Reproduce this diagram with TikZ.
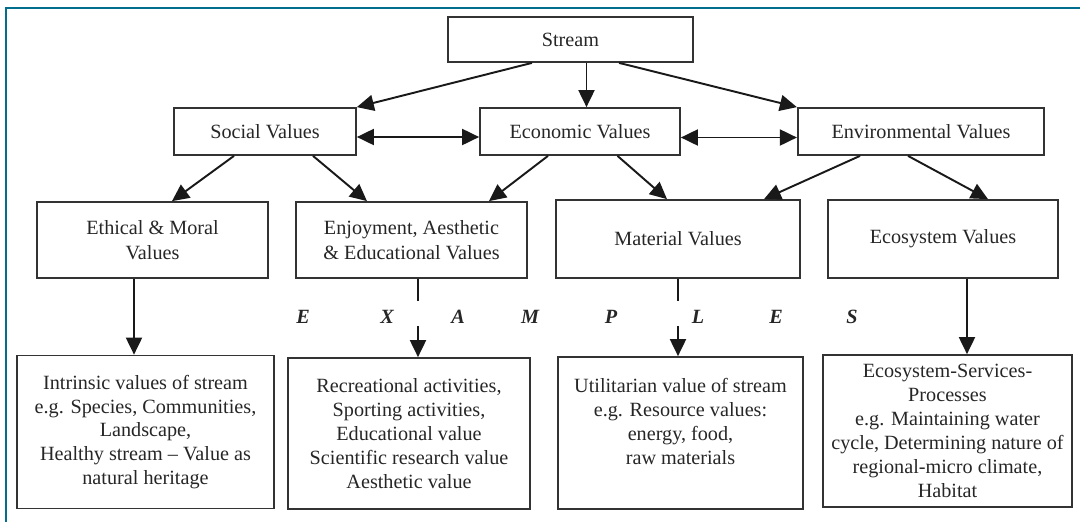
\documentclass[tikz,border=0pt]{standalone}
\usepackage{fontspec}
\setmainfont{Liberation Serif}
\usetikzlibrary{arrows.meta}
\definecolor{framecol}{RGB}{0,110,140}
\tikzset{
	valbox/.style={draw=black!80, line width=1pt, align=center, inner sep=2pt,
		font=\fontsize{11.5}{14}\selectfont, text=black!85},
	examplebox/.style={valbox, font=\fontsize{11.5}{13.6}\selectfont},
	valarrow/.style={draw=black!90, line width=1.1pt, -{Triangle[length=0.34cm,width=0.32cm]}},
	twoarrow/.style={valarrow, {Triangle[length=0.34cm,width=0.32cm]}-{Triangle[length=0.34cm,width=0.32cm]}},
	exletter/.style={font=\fontsize{11.5}{12}\selectfont\bfseries\itshape, text=black!85}
}

\begin{document}
\begin{tikzpicture}[x=0.02cm, y=-0.02cm]
	\useasboundingbox (0,0) rectangle (1080,522);
	% frame
	\draw[framecol, line width=1pt] (1080,8) -- (6,8) -- (6,522);
	% top and second row
	\node[valbox, minimum width=4.9cm, minimum height=0.9cm] (stream) at (570.5,39.5) {Stream};
	\node[valbox, minimum width=3.64cm, minimum height=0.94cm] (social) at (265,131.5) {Social Values};
	\node[valbox, minimum width=4.0cm, minimum height=0.94cm] (econ) at (580,131.5) {Economic Values};
	\node[valbox, minimum width=4.93cm, minimum height=0.94cm] (env) at (921,131.5) {Environmental Values};
	% third row
	\node[valbox, minimum width=4.62cm, minimum height=1.52cm] (ethical) at (152.5,240) {Ethical \& Moral\\Values};
	\node[valbox, minimum width=4.62cm, minimum height=1.52cm] (enjoy) at (411.5,240) {Enjoyment, Aesthetic\\\& Educational Values};
	\node[valbox, minimum width=4.89cm, minimum height=1.56cm] (material) at (678,239) {Material Values};
	\node[valbox, minimum width=4.59cm, minimum height=1.56cm] (ecosys) at (943,239) {Ecosystem Values};
	% examples row
	\foreach \ch/\px in {E/303, X/387, A/458, M/530, P/611, L/698, E/776, S/852}
		\node[exletter] (ex\px) at (\px,317) {\ch};
	% bottom row
	\node[examplebox, minimum width=5.14cm, minimum height=3.06cm] (intrinsic) at (145.5,432)
		{Intrinsic values of stream\\e.g. Species, Communities,\\Landscape,\\Healthy stream -- Value as\\natural heritage};
	\node[examplebox, minimum width=4.84cm, minimum height=3.02cm] (recreation) at (409,433.5)
		{Recreational activities,\\Sporting activities,\\Educational value\\Scientific research value\\Aesthetic value};
	\node[examplebox, minimum width=4.9cm, minimum height=3.04cm] (utility) at (680.5,433)
		{Utilitarian value of stream\\e.g. Resource values:\\energy, food,\\raw materials\\\mbox{}};
	\node[examplebox, minimum width=4.98cm, minimum height=3.04cm] (services) at (947.5,431)
		{Ecosystem-Services-\\Processes\\e.g. Maintaining water\\cycle, Determining nature of\\regional-micro climate,\\Habitat};

	% connectors
	\draw[valarrow] ([xshift=-0.77cm]stream.south) -- (social.north east);
	\draw[valarrow] ([xshift=0.32cm]stream.south) -- ([xshift=0.32cm]stream.south |- econ.north);
	\draw[valarrow] ([xshift=0.97cm]stream.south) -- (env.north west);
	\draw[twoarrow] ([yshift=-0.11cm]social.east) -- ([yshift=-0.11cm]econ.west);
	\draw[twoarrow] ([yshift=-0.12cm]econ.east) -- ([yshift=-0.12cm]env.west);
	\draw[valarrow] ([xshift=-0.62cm]social.south) -- ([xshift=0.39cm]ethical.north);
	\draw[valarrow] ([xshift=0.96cm]social.south) -- ([xshift=-0.89cm]enjoy.north);
	\draw[valarrow] ([xshift=-0.64cm]econ.south) -- ([xshift=1.55cm]enjoy.north);
	\draw[valarrow] ([xshift=0.75cm]econ.south) -- ([xshift=-0.22cm]material.north);
	\draw[valarrow] ([xshift=-1.22cm]env.south) -- ([xshift=1.72cm]material.north);
	\draw[valarrow] ([xshift=-0.26cm]env.south) -- ([xshift=0.9cm]ecosys.north);
	\draw[valarrow] ([xshift=-0.37cm]ethical.south) -- ([xshift=-0.37cm]ethical.south |- intrinsic.north);
	\draw[valarrow, dash pattern=on 0.44cm off 0.5cm on 3cm] ([xshift=0.13cm]enjoy.south) -- ([xshift=0.13cm]enjoy.south |- recreation.north);
	\draw[valarrow, dash pattern=on 0.44cm off 0.5cm on 3cm] (material.south) -- (material.south |- utility.north);
	\draw[valarrow] ([xshift=0.48cm]ecosys.south) -- ([xshift=0.48cm]ecosys.south |- services.north);
\end{tikzpicture}
\end{document}
